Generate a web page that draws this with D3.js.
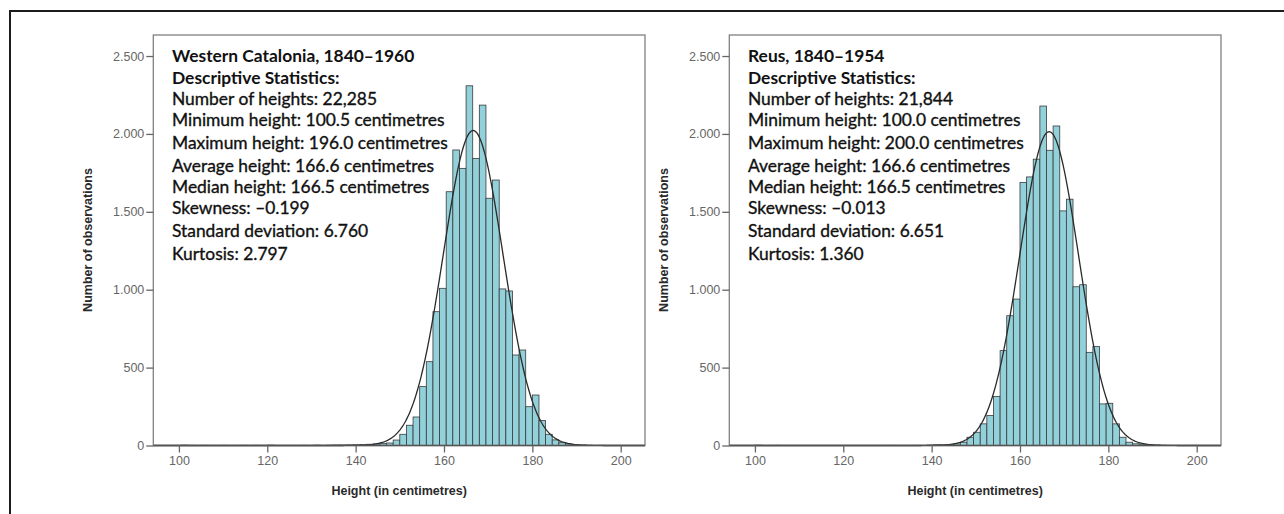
<!DOCTYPE html>
<html><head><meta charset="utf-8">
<script src="https://cdn.jsdelivr.net/npm/d3@7"></script>
<style>html,body{margin:0;padding:0;background:#fff;} svg{display:block}</style>
</head><body><svg id="c" width="1284" height="514"></svg>
<script>
// ---------- data ----------
const binWidth = 1.5;
const xTicks = [100, 120, 140, 160, 180, 200];
const yTicks = [0, 500, 1000, 1500, 2000, 2500];

const leftTitle = "Western Catalonia, 1840\u20131960";
const leftStats = ["Descriptive Statistics:", "Number of heights: 22,285", "Minimum height: 100.5 centimetres",
  "Maximum height: 196.0 centimetres", "Average height: 166.6 centimetres", "Median height: 166.5 centimetres",
  "Skewness: \u20130.199", "Standard deviation: 6.760", "Kurtosis: 2.797"];
const leftN = 22285, leftMean = 166.6, leftSd = 6.760;
const leftBinLo = [100.5,102,105,109.5,114,117,120,127.5,130.5,133.5,135,136.5,138,139.5,141,142.5,144,145.5,147,148.5,
  150,151.5,153,154.5,156,157.5,159,160.5,162,163.5,165,166.5,168,169.5,171,172.5,174,175.5,177,178.5,
  180,181.5,183,184.5,186,187.5,189,190.5,192,195];
const leftCounts = [2,1,1,1,1,1,2,1,2,2,3,3,4,5,6,8,10,12,16,35,
  72,130,183,378,538,859,1009,1629,1897,1779,2309,1843,2185,1587,1704,1005,992,581,613,249,
  324,160,72,36,18,10,5,3,2,1];

const rightTitle = "Reus, 1840\u20131954";
const rightStats = ["Descriptive Statistics:", "Number of heights: 21,844", "Minimum height: 100.0 centimetres",
  "Maximum height: 200.0 centimetres", "Average height: 166.6 centimetres", "Median height: 166.5 centimetres",
  "Skewness: \u20130.013", "Standard deviation: 6.651", "Kurtosis: 1.360"];
const rightN = 21844, rightMean = 166.6, rightSd = 6.651;
const rightBinLo = [100,104.5,130,136,139,140.5,142,143.5,145,146.5,148,149.5,151,152.5,154,155.5,157,158.5,
  160,161.5,163,164.5,166,167.5,169,170.5,172,173.5,175,176.5,178,179.5,181,182.5,184,185.5,187,188.5,190,191.5,193,199];
const rightCounts = [2,1,1,1,3,5,4,6,10,21,53,85,139,192,314,609,833,940,
  1688,1724,1838,2179,1895,2051,1506,1581,1019,1032,598,635,267,271,139,53,21,11,8,6,3,2,1,1];

const xLabel = "Height (in centimetres)";
const yLabel = "Number of observations";

// ---------- drawing ----------
const svg = d3.select("#c");
const fmt = d3.formatLocale({decimal: ",", thousands: ".", grouping: [3], currency: ["", ""]}).format(",");
const curveFactor = 1.025; // fitted curve height as drawn in the source

svg.append("rect").attr("x", 10).attr("y", 11).attr("width", 1300).attr("height", 600)
  .attr("fill", "none").attr("stroke", "#1c1c1c").attr("stroke-width", 2);

function panel(offset, title, stats, binLo, counts, N, mean, sd) {
  const x = d3.scaleLinear().domain([94.2, 205.5]).range([153.3 + offset, 645 + offset]);
  const y = d3.scaleLinear().domain([0, 2635]).range([445.5, 35]);
  const g = svg.append("g");

  // bars
  g.selectAll("rect.bar").data(binLo.map((lo, i) => ({lo, c: counts[i]}))).enter()
    .append("rect").attr("class", "bar")
    .attr("x", d => x(d.lo)).attr("width", d => x(d.lo + binWidth) - x(d.lo))
    .attr("y", d => y(d.c)).attr("height", d => y(0) - y(d.c))
    .attr("fill", "#92d0da").attr("stroke", "#3a3a3a").attr("stroke-width", 0.8);

  // normal curve
  const pts = d3.range(x.domain()[0], x.domain()[1] + 0.01, 0.2);
  const dens = v => curveFactor * N * binWidth * Math.exp(-0.5 * ((v - mean) / sd) ** 2) / (sd * Math.sqrt(2 * Math.PI));
  g.append("path").datum(pts)
    .attr("d", d3.line().x(v => x(v)).y(v => y(dens(v))))
    .attr("fill", "none").attr("stroke", "#2a2a2a").attr("stroke-width", 1.3);

  // frame
  g.append("rect").attr("x", x.range()[0]).attr("y", y.range()[1])
    .attr("width", x.range()[1] - x.range()[0]).attr("height", y.range()[0] - y.range()[1])
    .attr("fill", "none").attr("stroke", "#808080").attr("stroke-width", 1.3);
  g.append("line").attr("x1", x.range()[0]).attr("x2", x.range()[1])
    .attr("y1", y(0)).attr("y2", y(0)).attr("stroke", "#555").attr("stroke-width", 1.4);

  // axes
  const xa = g.append("g").attr("transform", `translate(0,${y(0)})`)
    .call(d3.axisBottom(x).tickValues(xTicks).tickSize(7).tickPadding(4));
  const ya = g.append("g").attr("transform", `translate(${x.range()[0]},0)`)
    .call(d3.axisLeft(y).tickValues(yTicks).tickSize(7).tickPadding(2).tickFormat(fmt));
  [xa, ya].forEach(a => {
    a.select(".domain").remove();
    a.selectAll("line").attr("stroke", "#666").attr("stroke-width", 1.3);
    a.selectAll("text").attr("fill", "#666").style("font-family", "'Liberation Sans', Arial, sans-serif")
      .style("font-size", "12.5px");
  });

  g.append("text").attr("x", (x.range()[0] + x.range()[1]) / 2).attr("y", 495)
    .attr("text-anchor", "middle").attr("fill", "#2a2a2a")
    .style("font-family", "'Liberation Sans', Arial, sans-serif").style("font-size", "12.5px").style("font-weight", "bold")
    .text(xLabel);
  g.append("text").attr("transform", `translate(${offset + 92},240) rotate(-90)`)
    .attr("text-anchor", "middle").attr("fill", "#2a2a2a")
    .style("font-family", "'Liberation Sans', Arial, sans-serif").style("font-size", "12.5px").style("font-weight", "bold")
    .text(yLabel);

  // stats text
  const lines = [title].concat(stats);
  const baselines = [62, 84, 105, 126, 149, 172, 193, 214, 237, 260];
  g.selectAll("text.stat").data(lines).enter().append("text").attr("class", "stat")
    .attr("x", 172 + offset).attr("y", (d, i) => baselines[i])
    .attr("fill", "#111").attr("stroke", "#111").attr("stroke-width", (d, i) => i < 2 ? 0 : 0.35)
    .style("font-family", "Lato, 'Open Sans', sans-serif").style("font-size", "17.4px")
    .style("font-weight", (d, i) => i < 2 ? "bold" : "normal")
    .text(d => d);
}

panel(0, leftTitle, leftStats, leftBinLo, leftCounts, leftN, leftMean, leftSd);
panel(576, rightTitle, rightStats, rightBinLo, rightCounts, rightN, rightMean, rightSd);
</script>
</body></html>
